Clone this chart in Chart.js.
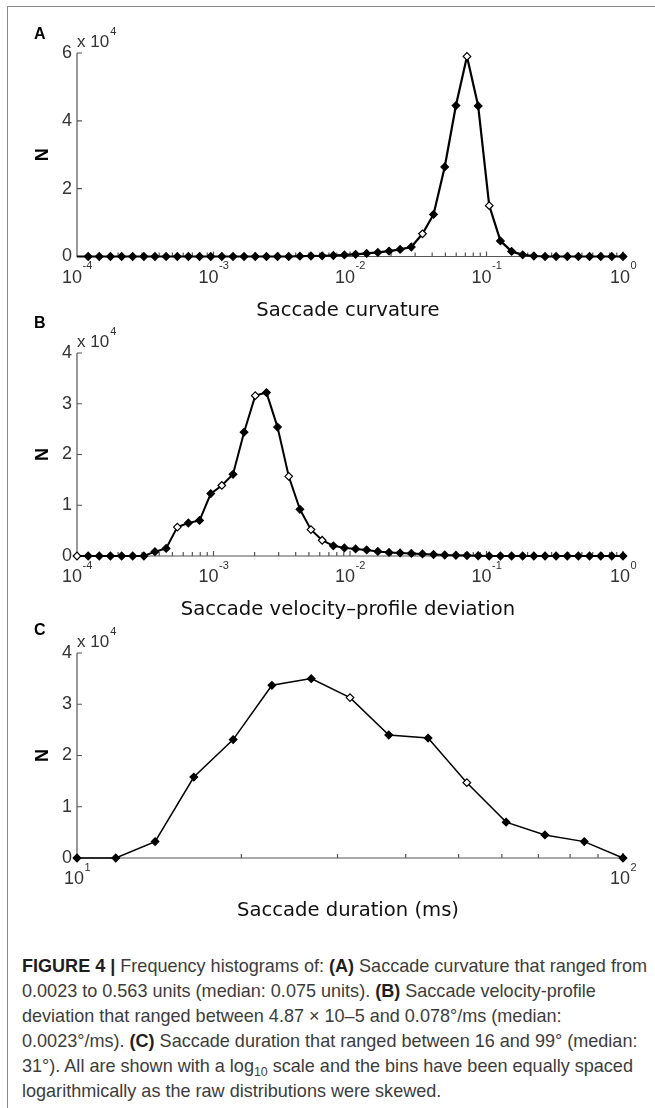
<!DOCTYPE html>
<html><head><meta charset="utf-8">
<script src="https://cdn.jsdelivr.net/npm/chart.js@4.4.1/dist/chart.umd.min.js"></script>
<style>
html,body{margin:0;padding:0;background:#fff;width:655px;height:1108px;overflow:hidden;}
#frame{position:absolute;left:7px;top:6px;width:700px;height:1200px;border-left:1.5px solid #8a8a8a;border-top:1.5px solid #8a8a8a;}
canvas{position:absolute;left:0;}
#caption{position:absolute;left:22px;top:953px;font-family:'Liberation Sans',Arial,sans-serif;font-size:19px;color:#3c3c3c;line-height:25px;white-space:nowrap;transform-origin:0 0;}
#caption b{color:#1e1e1e;}
#caption .ln{height:25px;}
#caption sub{font-size:13px;line-height:0;vertical-align:-4px;}
</style></head><body>
<div id="frame"></div>
<canvas id="cA" width="655" height="330" style="top:0px"></canvas>
<canvas id="cB" width="655" height="330" style="top:300px"></canvas>
<canvas id="cC" width="655" height="330" style="top:600px"></canvas>
<div id="caption">
<div class="ln"><span id="l1"><b>FIGURE 4 |</b> Frequency histograms of: <b>(A)</b> Saccade curvature that ranged from</span></div>
<div class="ln">0.0023 to 0.563 units (median: 0.075 units). <b>(B)</b> Saccade velocity-profile</div>
<div class="ln">deviation that ranged between 4.87 × 10–5 and 0.078°/ms (median:</div>
<div class="ln">0.0023°/ms). <b>(C)</b> Saccade duration that ranged between 16 and 99° (median:</div>
<div class="ln">31°). All are shown with a log<sub>10</sub> scale and the bins have been equally spaced</div>
<div class="ln">logarithmically as the raw distributions were skewed.</div>
</div>
<script>
// ---- DATA ----
// bin centres (log10 exponent) shared by panels A and B
const binExpAB = [-4, -3.918, -3.837, -3.755, -3.673, -3.592, -3.510, -3.429, -3.347, -3.265,
  -3.184, -3.102, -3.020, -2.939, -2.857, -2.776, -2.694, -2.612, -2.531, -2.449,
  -2.367, -2.286, -2.204, -2.122, -2.041, -1.959, -1.878, -1.796, -1.714, -1.633,
  -1.551, -1.469, -1.388, -1.306, -1.224, -1.143, -1.061, -0.980, -0.898, -0.816,
  -0.735, -0.653, -0.571, -0.490, -0.408, -0.327, -0.245, -0.163, -0.082, 0];
// A: saccade curvature counts
const countsA = [0, 0, 0, 0, 0, 0, 0, 0, 0, 0,
  0, 0, 0, 0, 0, 0, 0, 0, 0, 0,
  100, 150, 200, 300, 450, 650, 900, 1200, 1600, 2100,
  2800, 6700, 12400, 26400, 44500, 59000, 44400, 15000, 4600, 1500,
  500, 150, 0, 0, 0, 0, 0, 0, 0, 0];
// B: velocity-profile deviation counts
const countsB = [0, 0, 0, 0, 0, 0, 0, 850, 1500, 5700,
  6500, 7000, 12300, 13900, 16100, 24400, 31600, 32200, 25400, 15700,
  9200, 5200, 3100, 2000, 1600, 1400, 1200, 900, 700, 600,
  500, 400, 300, 200, 150, 100, 50, 0, 0, 0,
  0, 0, 0, 0, 0, 0, 0, 0, 0, 0];
// C: saccade duration (ms), bin centres as log10 exponent
const binExpC = [1.000, 1.071, 1.143, 1.214, 1.286, 1.357, 1.429, 1.500, 1.571, 1.643, 1.714, 1.786, 1.857, 1.929, 2.000];
const countsC = [0, 0, 3200, 15800, 23100, 33700, 35000, 31300, 24000, 23400, 14700, 7000, 4500, 3200, 0];

// axis ticks / labels
const decadesAB = [1e-4, 1e-3, 1e-2, 1e-1, 1];
const decadeExpAB = ['-4', '-3', '-2', '-1', '0'];
const decadesC = [10, 100];
const decadeExpC = ['1', '2'];
const titles = ['Saccade curvature', 'Saccade velocity\u2013profile deviation', 'Saccade duration (ms)'];
const letters = ['A', 'B', 'C'];

// marker styling indices
const openA = [31, 35, 37], hiddenA = [0];
const openB = [0, 9, 13, 16, 19, 21, 22], hiddenB = [];
const openC = [7, 10], hiddenC = [];

const axisPlugin = {
  id: 'matlabAxes',
  beforeDatasetsDraw(chart, args, o) {
    const {ctx, chartArea: ca, scales: {x, y}} = chart;
    ctx.save();
    ctx.strokeStyle = '#555';
    ctx.lineWidth = 1.2;
    ctx.beginPath();
    ctx.moveTo(ca.left, ca.top);
    ctx.lineTo(ca.left, ca.bottom);
    ctx.lineTo(ca.right, ca.bottom);
    y.ticks.forEach(t => {
      const py = y.getPixelForValue(t.value);
      ctx.moveTo(ca.left, py); ctx.lineTo(ca.left + 5, py);
    });
    o.decades.forEach((d, i) => {
      const px = x.getPixelForValue(d);
      ctx.moveTo(px, ca.bottom); ctx.lineTo(px, ca.bottom - 5);
      if (i < o.decades.length - 1) {
        for (let m = 2; m <= 9; m++) {
          const pm = x.getPixelForValue(d * m);
          ctx.moveTo(pm, ca.bottom); ctx.lineTo(pm, ca.bottom - 4);
        }
      }
    });
    ctx.stroke();
    ctx.restore();
  },
  afterDraw(chart, args, o) {
    const {ctx, chartArea: ca, scales: {x}} = chart;
    ctx.save();
    // x tick labels 10^n
    ctx.fillStyle = '#333';
    ctx.textBaseline = 'alphabetic';
    ctx.textAlign = 'left';
    o.decades.forEach((d, i) => {
      const px = x.getPixelForValue(d);
      ctx.font = '18px "Liberation Sans"';
      const wb = ctx.measureText('10').width;
      ctx.font = '11px "Liberation Sans"';
      const we = ctx.measureText(o.exps[i]).width;
      const x0 = px - (wb + we) / 2;
      ctx.font = '18px "Liberation Sans"';
      ctx.fillText('10', x0, ca.bottom + 26);
      ctx.font = '11px "Liberation Sans"';
      ctx.fillText(o.exps[i], x0 + wb + 0.5, ca.bottom + 12.5);
    });
    // x 10^4 multiplier
    ctx.font = '17px "Liberation Sans"';
    ctx.fillText('x 10', ca.left, ca.top - 6);
    const wm = ctx.measureText('x 10').width;
    ctx.font = '11px "Liberation Sans"';
    ctx.fillText('4', ca.left + wm + 1, ca.top - 18);
    // axis title
    ctx.fillStyle = '#111';
    ctx.font = '19.6px "DejaVu Sans"';
    ctx.textAlign = 'center';
    ctx.fillText(o.title, 348, o.titleY);
    // panel letter
    ctx.textAlign = 'left';
    ctx.fillStyle = '#000';
    ctx.font = 'bold 16px "Liberation Sans"';
    ctx.fillText(o.letter, 34, o.letterY);
    ctx.restore();
  }
};

function makePanel(id, cfg) {
  const pts = cfg.xs.map((e, i) => ({x: Math.pow(10, e), y: cfg.ys[i]}));
  return new Chart(document.getElementById(id), {
    type: 'line',
    data: {datasets: [{
      data: pts,
      borderColor: '#000',
      borderWidth: cfg.lw,
      tension: 0,
      clip: false,
      pointStyle: 'rectRot',
      pointRadius: c => cfg.hidden.includes(c.dataIndex) ? 0 : 3.8,
      pointBackgroundColor: c => cfg.open.includes(c.dataIndex) ? '#fff' : '#000',
      pointBorderColor: '#000',
      pointBorderWidth: 1.2
    }]},
    options: {
      responsive: false, animation: false, devicePixelRatio: 1,
      layout: {padding: {left: 0, right: 32, top: cfg.padTop, bottom: cfg.padBottom}},
      plugins: {
        legend: {display: false}, tooltip: {enabled: false},
        matlabAxes: {decades: cfg.decades, exps: cfg.exps, title: cfg.title, titleY: cfg.titleY, letter: cfg.letter, letterY: cfg.letterY}
      },
      scales: {
        x: {type: 'logarithmic', display: false, min: cfg.decades[0], max: cfg.decades[cfg.decades.length - 1]},
        y: {
          min: 0, max: cfg.ymax,
          afterFit(s) { s.width = 77; },
          grid: {display: false, drawTicks: false},
          border: {display: false},
          ticks: {stepSize: 10000 * cfg.step, callback: v => String(v / 10000), font: {family: 'Liberation Sans', size: 18}, color: '#333', padding: 5},
          title: {display: true, text: 'N', font: {family: 'Liberation Sans', size: 18, weight: 'bold'}, color: '#000', padding: {top: 32, bottom: 0}}
        }
      }
    },
    plugins: [axisPlugin]
  });
}

makePanel('cA', {xs: binExpAB, ys: countsA, open: openA, hidden: hiddenA, lw: 2.2, decades: decadesAB, exps: decadeExpAB,
  ymax: 60000, step: 2, padTop: 53, padBottom: 73.5, title: titles[0], titleY: 316, letter: letters[0], letterY: 39});
makePanel('cB', {xs: binExpAB, ys: countsB, open: openB, hidden: hiddenB, lw: 2, decades: decadesAB, exps: decadeExpAB,
  ymax: 40000, step: 1, padTop: 53, padBottom: 74, title: titles[1], titleY: 315, letter: letters[1], letterY: 28});
makePanel('cC', {xs: binExpC, ys: countsC, open: openC, hidden: hiddenC, lw: 1.5, decades: decadesC, exps: decadeExpC,
  ymax: 40000, step: 1, padTop: 53, padBottom: 72, title: titles[2], titleY: 316, letter: letters[2], letterY: 35});

// fit caption width to the reference line length
const l1 = document.getElementById('l1');
const w1 = l1.getBoundingClientRect().width;
document.getElementById('caption').style.transform = 'scaleX(' + (625 / w1) + ')';
</script>
</body></html>
